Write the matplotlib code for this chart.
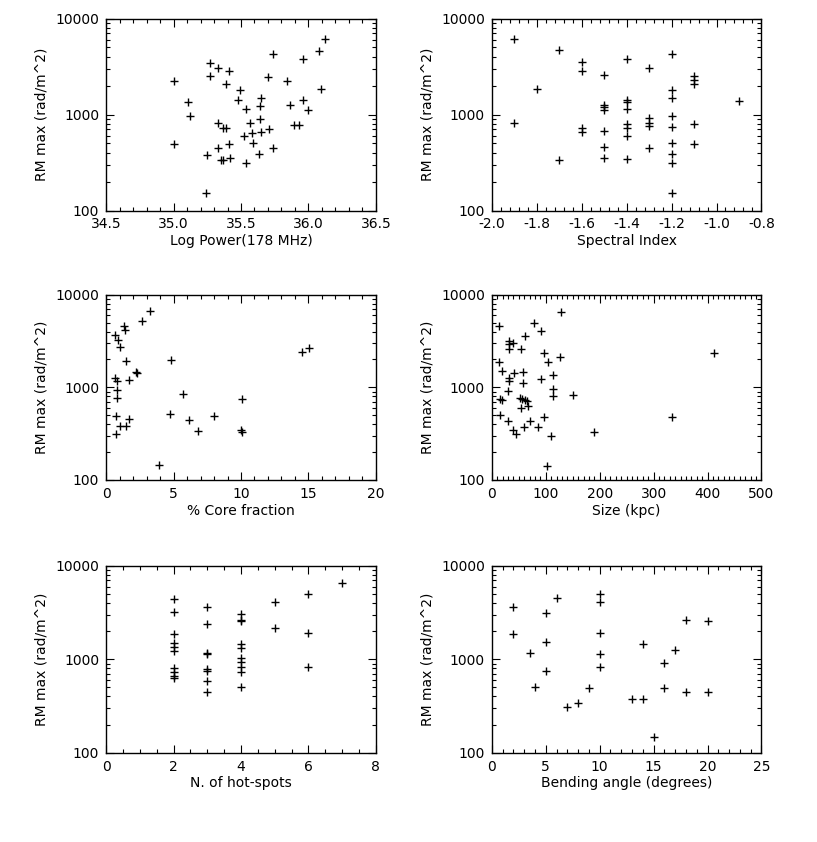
import numpy as np
import matplotlib.pyplot as plt
from matplotlib.ticker import MultipleLocator, LogLocator, FixedLocator, NullFormatter

# Panel 1: log power vs RM max
logp_x = [35.0, 35.0, 35.11, 35.12, 35.24, 35.25, 35.27, 35.27, 35.33, 35.33, 35.33,
          35.35, 35.37, 35.37, 35.39, 35.39, 35.41, 35.41, 35.42, 35.49, 35.48, 35.52,
          35.54, 35.54, 35.57, 35.58, 35.59, 35.63, 35.64, 35.64, 35.65, 35.65, 35.70,
          35.71, 35.74, 35.74, 35.84, 35.86, 35.89, 35.93, 35.96, 35.96, 36.0, 36.08,
          36.09, 36.12]
logp_y = [2240, 489, 1350, 957, 152, 381, 3475, 2543, 3032, 822, 447,
          332, 338, 729, 729, 2099, 2845, 489, 354, 1788, 1406, 592,
          1150, 312, 822, 641, 508, 384, 906, 1217, 1486, 657, 2462,
          711, 451, 4244, 2240, 1247, 771, 771, 3824, 1406, 1105, 4600,
          1862, 6085]

# Panel 2: spectral index
spix_x = [-1.9, -1.9, -1.8, -1.7, -1.7,
          -1.6, -1.6, -1.6, -1.6,
          -1.5, -1.5, -1.5, -1.5, -1.5, -1.5, -1.5,
          -1.4, -1.4, -1.4, -1.4, -1.4, -1.4, -1.4, -1.4,
          -1.3, -1.3, -1.3, -1.3, -1.3,
          -1.2, -1.2, -1.2, -1.2, -1.2, -1.2, -1.2, -1.2, -1.2,
          -1.1, -1.1, -1.1, -1.1, -1.1, -0.9]
spix_y = [6085, 822, 1862, 4670, 332,
          3530, 2845, 722, 657,
          2562, 1247, 1200, 1120, 668, 458, 351,
          3824, 1429, 1350, 1150, 789, 730, 592, 346,
          3057, 927, 822, 753, 447,
          4313, 1816, 1486, 957, 741, 508, 384, 312, 152,
          2500, 2310, 2099, 789, 489, 1383]

# Panel 3: core fraction (%)
core_x = [0.62, 0.91, 1.03, 0.66, 0.79, 0.79, 0.79, 0.69, 0.69, 1.03, 1.48, 1.72,
          1.35, 1.43, 1.48, 1.72, 2.21, 2.26, 2.66, 3.22, 3.94, 4.80, 4.72, 5.66,
          6.15, 6.79, 7.97, 10.04, 10.01, 10.09, 14.56, 15.06]
core_y = [3697, 3265, 2697, 1256, 1156, 940, 776, 492, 312, 387, 387, 453,
          4546, 4188, 1902, 1185, 1446, 1413, 5150, 6600, 145, 1950, 517, 844,
          445, 341, 492, 751, 347, 328, 2380, 2630]

# Panel 4: size (kpc)
size_x = [14, 14, 19, 16, 19, 16, 31, 32, 39, 31, 31, 31, 30, 30, 39, 44, 41,
          54, 57, 57, 52, 56, 54, 60, 62, 61, 65, 67, 71, 78, 85, 92, 91, 96,
          96, 104, 102, 110, 113, 114, 114, 128, 127, 151, 189, 334, 412]
size_y = [4546, 1887, 1508, 745, 731, 504, 3184, 2930, 2995, 2586, 1256, 1160,
          917, 434, 344, 317, 1411, 2586, 1478, 1110, 764, 745, 596, 377, 3605,
          731, 713, 631, 434, 4940, 377, 4016, 1225, 480, 2322, 1887, 142, 299,
          1365, 971, 809, 6440, 2138, 822, 333, 480, 2322]

# Panel 5: number of hot-spots
hs_x = [2, 2, 2, 2, 2, 2, 2, 2, 2, 2,
        3, 3, 3, 3, 3, 3, 3, 3,
        4, 4, 4, 4, 4, 4, 4, 4, 4, 4,
        5, 5, 6, 6, 6, 7]
hs_y = [4430, 3190, 1853, 1510, 1368, 1240, 801, 726, 668, 636,
        3605, 2371, 1159, 1130, 788, 748, 586, 443,
        3060, 2640, 2580, 1459, 1312, 1025, 929, 821, 738, 501,
        4080, 2183, 5010, 1900, 821, 6520]

# Panel 6: bending angle (degrees)
bend_x = [2, 2, 3.5, 4, 5, 5, 5, 6, 7, 8, 9, 10, 10, 10, 10, 10,
          13, 14, 14, 15, 16, 16, 17, 18, 18, 20, 20]
bend_y = [3605, 1853, 1159, 509, 3162, 1521, 750, 4505, 306, 338, 497,
          5010, 4080, 1900, 1132, 821, 376, 1448, 376, 148, 921, 497,
          1259, 2640, 451, 2580, 443]

panels = [
    (logp_x, logp_y, 'Log Power(178 MHz)', (34.5, 36.5), 0.5, 0.1),
    (spix_x, spix_y, 'Spectral Index', (-2.0, -0.8), 0.2, 0.04),
    (core_x, core_y, '% Core fraction', (0, 20), 5, 1),
    (size_x, size_y, 'Size (kpc)', (0, 500), 100, 10),
    (hs_x, hs_y, 'N. of hot-spots', (0, 8), 2, 0.5),
    (bend_x, bend_y, 'Bending angle (degrees)', (0, 25), 5, 1),
]

# axes rectangles [left, bottom, width, height] in figure fraction
lefts = [0.130, 0.602]
rows = [(0.750, 0.228), (0.430, 0.220), (0.106, 0.222)]

plt.rcParams['font.family'] = ['DejaVu Sans']
fig = plt.figure(figsize=(8.17, 8.42), dpi=100)

for i, (x, y, xlabel, xlim, major, minor) in enumerate(panels):
    bottom, height = rows[i // 2]
    ax = fig.add_axes([lefts[i % 2], bottom, 0.330, height])
    ax.plot(x, y, '+', color='black', markersize=6, markeredgewidth=1.0)
    ax.set_yscale('log')
    ax.set_ylim(100, 10000)
    ax.set_xlim(*xlim)
    ax.yaxis.set_major_locator(FixedLocator([100, 1000, 10000]))
    ax.yaxis.set_major_formatter(plt.FuncFormatter(lambda v, p: '%d' % round(v)))
    ax.yaxis.set_minor_locator(LogLocator(base=10, subs=np.arange(2, 10)))
    ax.yaxis.set_minor_formatter(NullFormatter())
    ax.xaxis.set_major_locator(MultipleLocator(major))
    ax.xaxis.set_minor_locator(MultipleLocator(minor))
    if i in (0, 1):
        ax.xaxis.set_major_formatter(plt.FuncFormatter(lambda v, p: '%.1f' % v))
    ax.tick_params(which='both', direction='in', top=True, right=True, labelsize=10)
    ax.tick_params(which='major', length=6, width=0.8, pad=5)
    ax.tick_params(which='minor', length=3, width=0.8)
    for s in ax.spines.values():
        s.set_linewidth(1.0)
    ax.set_xlabel(xlabel, fontsize=10, labelpad=2)
    ax.set_ylabel('RM max (rad/m^2)', fontsize=10, labelpad=5)

fig.savefig('out.png', dpi=100)
